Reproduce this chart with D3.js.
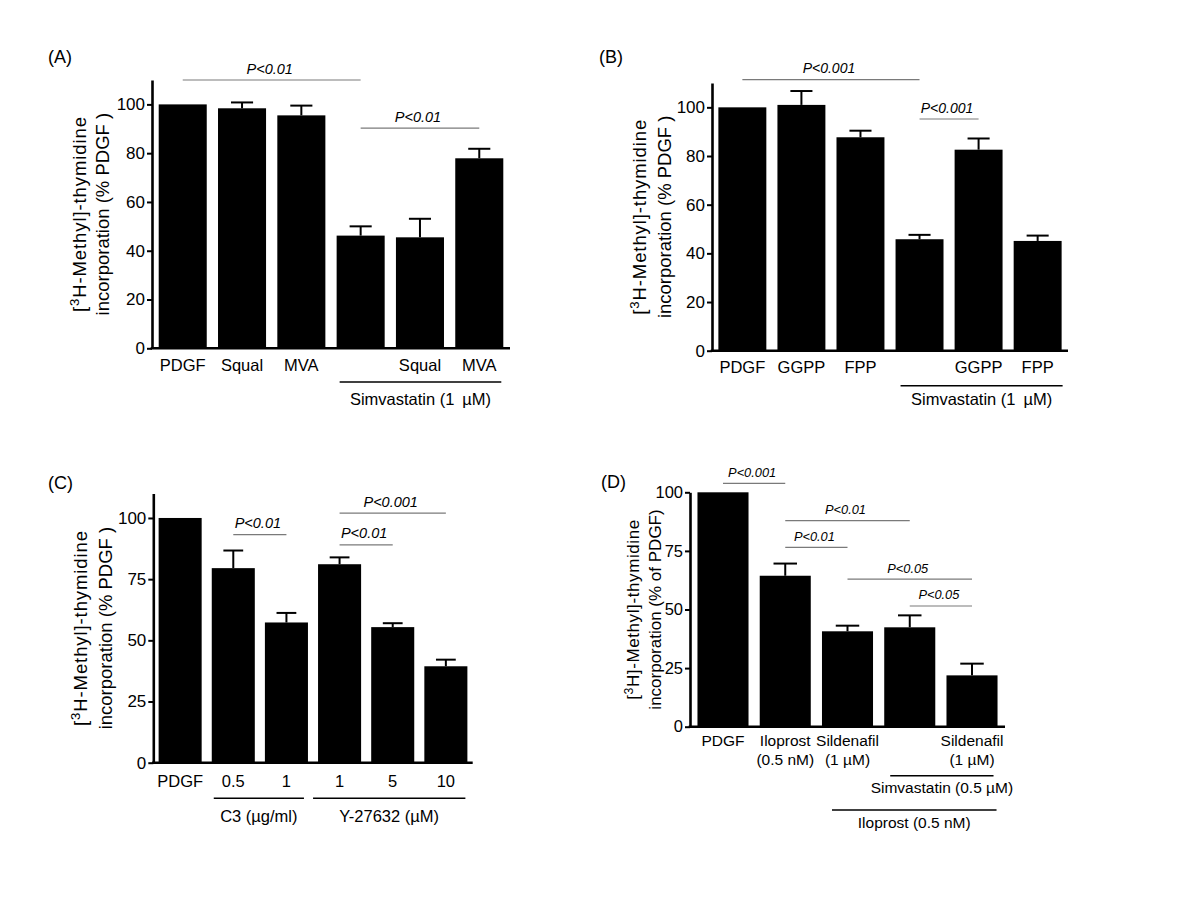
<!DOCTYPE html>
<html><head><meta charset="utf-8">
<script src="https://cdn.jsdelivr.net/npm/d3@7"></script>
<style>
body{margin:0;background:#fff}
text{font-family:"Liberation Sans",Arial,Helvetica,sans-serif;fill:#000}
</style>
</head><body>
<svg id="chart" width="1200" height="900"></svg>
<script>
// ---------- DATA ----------
// Panel A
const catsA = ["PDGF", "Squal", "MVA", "", "Squal", "MVA"];
const valsA = [100, 98.4, 95.5, 46.2, 45.5, 77.9];
const errsA = [0, 2.4, 4.0, 3.8, 7.6, 3.9];
const ticksA = [0, 20, 40, 60, 80, 100];
const groupsA = [[3, 5, "Simvastatin (1 \u2009\u00B5M)"]];
const sigA = [[0, 3, 110, "P<0.01"], [3, 5, 90.3, "P<0.01"]];

// Panel B
const catsB = ["PDGF", "GGPP", "FPP", "", "GGPP", "FPP"];
const valsB = [100, 101.0, 87.7, 45.8, 82.6, 45.1];
const errsB = [0, 5.7, 2.7, 1.8, 4.6, 2.2];
const ticksB = [0, 20, 40, 60, 80, 100];
const groupsB = [[3, 5, "Simvastatin (1 \u2009\u00B5M)"]];
const sigB = [[0, 3, 111.4, "P<0.001"], [3, 4, 95.2, "P<0.001"]];

// Panel C
const catsC = ["PDGF", "0.5", "1", "1", "5", "10"];
const valsC = [100, 79.5, 57.3, 81.1, 55.4, 39.4];
const errsC = [0, 7.2, 3.9, 2.8, 1.6, 2.7];
const ticksC = [0, 25, 50, 75, 100];
const groupsC = [[1, 2, "C3 (\u00B5g/ml)"], [3, 5, "Y-27632 (\u00B5M)"]];
const sigC = [[1, 2, 93.2, "P<0.01"], [3, 5, 102, "P<0.001"], [3, 4, 89, "P<0.01"]];

// Panel D
const catsD = [["PDGF"], ["Iloprost", "(0.5 nM)"], ["Sildenafil", "(1 \u00B5M)"], [""], ["Sildenafil", "(1 \u00B5M)"]];
const valsD = [100, 64.4, 40.7, 42.4, 21.9];
const errsD = [0, 5.2, 2.4, 5.1, 5.0];
const ticksD = [0, 25, 50, 75, 100];
const groupsD = [[3, 4, "Simvastatin (0.5 \u00B5M)"], [2, 4, "Iloprost (0.5 nM)"]];
const sigD = [[0, 1, 103.8, "P<0.001"], [1, 3, 87.9, "P<0.01"], [1, 2, 76.5, "P<0.01"], [2, 4, 63, "P<0.05"], [3, 4, 51.5, "P<0.05"]];

// ---------- LAYOUT ----------
const svg = d3.select("#chart");

const panels = [
  {id: "(A)", lx: 48, ly: 63, cats: catsA, vals: valsA, errs: errsA, ticks: ticksA, groups: groupsA, sig: sigA,
   left: 152, right: 510, top: 80, bottom: 348.3, ymax: 110, pi: 0.19, po: 0.113,
   tickFs: 17, labFs: 16.5, labOff: [22.7], sigFs: 14.5,
   groupLine: [33.7], groupText: [56.7], groupInset: [[3, 2]],
   title: [["[", "3", "H-Methyl]-thymidine"], ["incorporation (% PDGF )"]], titleX: [-72, -49], titleFs: 18.5, titleLS: [0.9, 0]},
  {id: "(B)", lx: 599, ly: 63, cats: catsB, vals: valsB, errs: errsB, ticks: ticksB, groups: groupsB, sig: sigB,
   left: 712, right: 1068, top: 83, bottom: 350.7, ymax: 110, pi: 0.188, po: 0.108,
   tickFs: 17, labFs: 16.5, labOff: [22.3], sigFs: 14,
   groupLine: [35], groupText: [54.3], groupInset: [[5, -1]],
   title: [["[", "3", "H-Methyl]-thymidine"], ["incorporation (% PDGF )"]], titleX: [-72, -47], titleFs: 18.5, titleLS: [0.9, 0]},
  {id: "(C)", lx: 48, ly: 489, cats: catsC, vals: valsC, errs: errsC, ticks: ticksC, groups: groupsC, sig: sigC,
   left: 153.3, right: 472.7, top: 493.5, bottom: 762.7, ymax: 110, pi: 0.19, po: 0.10,
   tickFs: 17, labFs: 16.5, labOff: [24], sigFs: 14.5,
   groupLine: [35.6, 35.6], groupText: [59, 59], groupInset: [[2, 4], [-5, 2]],
   title: [["[", "3", "H-Methyl]-thymidine"], ["incorporation (% PDGF )"]], titleX: [-73, -48], titleFs: 18.5, titleLS: [0.9, 0]},
  {id: "(D)", lx: 601, ly: 488, cats: catsD, vals: valsD, errs: errsD, ticks: ticksD, groups: groupsD, sig: sigD,
   left: 690, right: 1005, top: 492.3, bottom: 726.7, ymax: 100, pi: 0.18, po: 0.12,
   tickFs: 16.5, labFs: 15.5, labOff: [19.3, 38.3], sigFs: 12.8,
   groupLine: [49, 83.3], groupText: [66.3, 101.6], groupInset: [[6, 4], [10, 1]],
   title: [["[", "3", "H]-Methyl]-thymidine"], ["incorporation (% of PDGF)"]], titleX: [-57, -35], titleFs: 17, titleLS: [0.6, 0]}
];

function drawPanel(p) {
  const g = svg.append("g");
  const n = p.vals.length;
  const x = d3.scaleBand().domain(d3.range(n)).range([p.left, p.right]).paddingInner(p.pi).paddingOuter(p.po);
  const y = d3.scaleLinear().domain([0, p.ymax]).range([p.bottom, p.top]);
  const bw = x.bandwidth();
  const cx = i => x(i) + bw / 2;

  // panel letter
  g.append("text").attr("x", p.lx).attr("y", p.ly).attr("font-size", 18).text(p.id);

  // bars
  g.selectAll("rect.bar").data(p.vals).join("rect")
    .attr("x", (d, i) => x(i)).attr("y", d => y(d))
    .attr("width", bw).attr("height", d => p.bottom - y(d))
    .attr("fill", "#000");

  // error bars (upward only)
  const capW = bw * 0.46;
  const eb = g.selectAll("g.err").data(p.vals.map((v, i) => ({v, e: p.errs[i], i})).filter(d => d.e > 0))
    .join("g").attr("stroke", "#000").attr("stroke-width", 2);
  eb.append("line").attr("x1", d => cx(d.i)).attr("x2", d => cx(d.i)).attr("y1", d => y(d.v)).attr("y2", d => y(d.v + d.e));
  eb.append("line").attr("x1", d => cx(d.i) - capW / 2).attr("x2", d => cx(d.i) + capW / 2)
    .attr("y1", d => y(d.v + d.e)).attr("y2", d => y(d.v + d.e));

  // y axis
  const ya = g.append("g").attr("transform", `translate(${p.left},0)`)
    .call(d3.axisLeft(y).tickValues(p.ticks).tickSize(5).tickSizeOuter(0).tickPadding(2));
  ya.select(".domain").attr("stroke-width", 2.6).attr("stroke", "#000");
  ya.selectAll(".tick line").attr("stroke-width", 2).attr("stroke", "#000");
  ya.selectAll(".tick text").attr("font-size", p.tickFs).attr("font-family", "Liberation Sans, Arial, sans-serif").attr("fill", "#000");

  // x axis
  const xa = g.append("g").attr("transform", `translate(0,${p.bottom})`)
    .call(d3.axisBottom(x).tickSize(0).tickSizeOuter(0).tickFormat(i => ""));
  xa.select(".domain").attr("stroke-width", 2.6).attr("stroke", "#000").attr("d", `M${p.left - 1.3},0H${p.right}`);
  xa.selectAll(".tick text").each(function(i) {
    const t = d3.select(this).attr("dy", null).attr("y", null)
      .attr("font-size", p.labFs).attr("font-family", "Liberation Sans, Arial, sans-serif").attr("fill", "#000");
    const lines = Array.isArray(p.cats[i]) ? p.cats[i] : [p.cats[i]];
    lines.forEach((s, k) => t.append("tspan").attr("x", 0).attr("y", p.labOff[k]).text(s));
  });

  // group lines
  p.groups.forEach((gr, k) => {
    const [i0, i1, lab] = gr;
    const ins = p.groupInset[k];
    const x0 = x(i0) + ins[0], x1 = x(i1) + bw - ins[1];
    g.append("line").attr("x1", x0).attr("x2", x1)
      .attr("y1", p.bottom + p.groupLine[k]).attr("y2", p.bottom + p.groupLine[k])
      .attr("stroke", "#000").attr("stroke-width", 1.5);
    g.append("text").attr("x", (x0 + x1) / 2).attr("y", p.bottom + p.groupText[k])
      .attr("text-anchor", "middle").attr("font-size", p.labFs).text(lab);
  });

  // significance brackets
  p.sig.forEach(s => {
    const [i0, i1, lvl, lab] = s;
    const yy = y(lvl);
    g.append("line").attr("x1", cx(i0)).attr("x2", cx(i1)).attr("y1", yy).attr("y2", yy)
      .attr("stroke", "#7a7a7a").attr("stroke-width", 1.2);
    g.append("text").attr("x", (cx(i0) + cx(i1)) / 2 - 2).attr("y", yy - 6.5)
      .attr("text-anchor", "middle").attr("font-size", p.sigFs).attr("font-style", "italic").text(lab);
  });

  // y title
  const cy = (p.top + p.bottom) / 2;
  p.title.forEach((parts, k) => {
    const t = g.append("text").attr("transform", `translate(${p.left + p.titleX[k]},${cy}) rotate(-90)`)
      .attr("text-anchor", "middle").attr("dy", "0.35em").attr("font-size", p.titleFs)
      .attr("letter-spacing", p.titleLS[k]);
    if (parts.length === 3) {
      t.append("tspan").text(parts[0]);
      t.append("tspan").attr("font-size", p.titleFs * 0.72).attr("dy", -p.titleFs * 0.38).text(parts[1]);
      t.append("tspan").attr("dy", p.titleFs * 0.38).text(parts[2]);
    } else {
      t.text(parts[0]);
    }
  });
}

panels.forEach(drawPanel);
</script>
</body></html>
